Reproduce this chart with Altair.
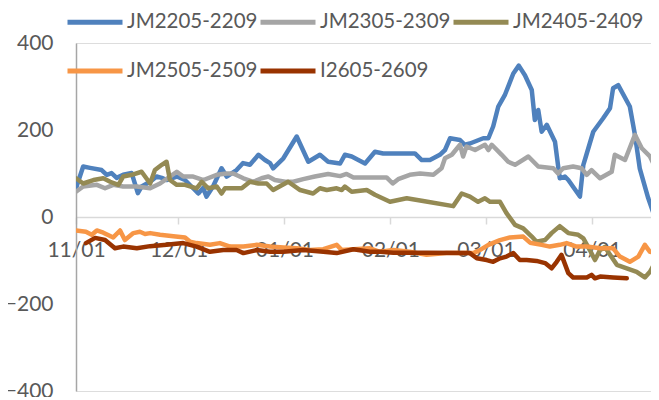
import altair as alt
import pandas as pd

series_names = ["JM2205-2209", "JM2305-2309", "JM2405-2409", "JM2505-2509", "I2605-2609"]
series_colors = ["#4F81BD", "#A5A5A5", "#948A54", "#F79646", "#993300"]

# x = days since 11/01
tick_days = [0, 30, 61, 92, 120, 151]
tick_labels = ["11/01", "12/01", "01/01", "02/01", "03/01", "04/01"]
y_ticks = [-400, -200, 0, 200, 400]

jm2205_day = [0, 2.1, 4.1, 7.5, 9.0, 10.4, 11.9, 13.8, 16.3, 18.1, 19.2, 21.7, 23.6, 25.1, 26.5,
              29.5, 31.9, 34.8, 35.8, 37.2, 38.2, 40.1, 42.6, 44.1, 47.0, 48.9, 50.9, 53.4, 55.3, 56.8,
              57.7, 60.7, 64.6, 68.0, 71.4, 73.8, 77.3, 78.7, 80.7, 84.6, 87.5, 89.9, 99.2, 101.2, 103.6,
              106.5, 108.0, 109.5, 112.4, 113.8, 115.3, 119.2, 120.7, 122.1, 123.6, 125.5, 128.0, 129.6,
              131.4, 133.4, 134.3, 135.3, 136.3, 137.8, 140.2, 141.2, 141.6, 143.1, 144.1, 147.5, 148.5,
              149.5, 151.4, 154.3, 156.3, 157.2, 158.7, 162.1, 163.6, 165.0, 167.5, 169.0, 170.4]
jm2205_val = [66, 116, 113, 108, 97, 101, 90, 97, 101, 55, 70, 81, 93, 90, 85,
              93, 85, 62, 54, 67, 47, 70, 112, 93, 108, 124, 120, 143, 131, 124,
              112, 135, 185, 127, 143, 127, 123, 143, 139, 123, 150, 146, 146, 131, 131,
              143, 154, 181, 177, 166, 169, 181, 181, 208, 254, 280, 330, 348,
              326, 292, 223, 246, 196, 212, 173, 112, 89, 93, 85, 47, 120,
              146, 196, 227, 250, 296, 303, 254, 189, 112, 43, 9, 58]

jm2305_day = [0, 2.1, 6.1, 8.5, 10.9, 13.8, 17.8, 21.7, 24.6, 27.5, 29.5, 31.4, 34.3, 37.3, 41.2,
              44.1, 46.0, 49.0, 51.9, 54.3, 56.3, 58.2, 61.2, 63.6, 66.5, 69.9, 73.8, 77.3, 79.2, 81.2,
              90.9, 92.7, 94.3, 97.7, 100.7, 104.6, 107.0, 108.0, 110.0, 112.4, 113.3, 114.3, 116.8,
              119.7, 120.7, 121.7, 124.6, 126.5, 128.5, 132.4, 135.3, 139.7, 141.1, 142.6, 145.5, 148.0,
              149.5, 150.9, 153.4, 156.8, 157.7, 160.7, 163.6, 165.6, 168.0, 169.9, 170.6]
jm2305_val = [58, 70, 74, 66, 74, 70, 70, 66, 77, 93, 104, 93, 93, 85, 97,
              100, 100, 89, 81, 89, 93, 85, 81, 81, 87, 93, 99, 94, 99, 91,
              91, 77, 87, 97, 100, 97, 112, 135, 143, 166, 139, 162, 154,
              166, 154, 166, 143, 127, 120, 139, 116, 112, 100, 112, 116, 112,
              97, 108, 89, 104, 143, 131, 189, 158, 139, 108, 93]

jm2405_day = [0, 2.1, 5.1, 8.0, 10.0, 12.4, 13.8, 16.3, 19.2, 21.7, 23.1, 25.1, 26.5, 27.5, 29.5,
              31.9, 35.3, 36.8, 38.7, 41.2, 42.6, 43.6, 48.5, 50.9, 53.4, 55.8, 57.7, 62.1, 65.6, 69.4,
              71.4, 73.4, 76.3, 77.8, 78.7, 80.7, 85.1, 87.5, 91.9, 96.8, 101.6, 110.4, 112.9, 115.3,
              117.7, 119.7, 121.2, 124.1, 126.0, 128.5, 130.9, 133.4, 134.8, 137.3, 139.2, 141.6, 144.1,
              147.0, 148.5, 150.4, 151.9, 153.4, 154.8, 158.3, 161.2, 164.1, 166.5, 168.0, 169.4, 170.6]
jm2405_val = [89, 77, 85, 89, 81, 74, 93, 97, 104, 77, 108, 120, 127, 85, 74,
              74, 66, 81, 66, 70, 54, 66, 66, 81, 77, 77, 62, 81, 62, 54,
              66, 62, 66, 62, 70, 58, 62, 51, 35, 43, 37, 25, 54, 47,
              35, 43, 35, 35, 9, -18, -26, -45, -57, -53, -37, -21, -37,
              -41, -49, -76, -99, -76, -69, -110, -118, -126, -139, -126, -106, -133]

jm2505_day = [0, 2.9, 4.6, 6.1, 8.0, 10.9, 12.9, 14.3, 16.8, 18.7, 20.2, 21.7, 24.6, 28.5, 31.9,
              33.4, 35.3, 39.2, 42.1, 45.1, 49.0, 52.9, 56.8, 60.7, 64.6, 68.5, 72.4, 76.3, 77.8, 81.2,
              86.0, 89.0, 92.9, 97.7, 102.6, 108.5, 112.4, 116.3, 118.2, 120.7, 124.1, 127.0, 130.9,
              132.9, 136.3, 138.7, 141.6, 143.6, 146.5, 149.5, 153.4, 157.2, 159.2, 162.1, 164.6, 166.5,
              168.0, 170.6]
jm2505_val = [-31, -34, -41, -31, -36, -47, -31, -53, -37, -34, -39, -37, -41, -44, -47,
              -57, -60, -64, -60, -68, -68, -64, -68, -70, -72, -76, -74, -64, -76, -74,
              -72, -80, -76, -80, -87, -83, -83, -83, -76, -64, -53, -47, -45,
              -59, -64, -68, -64, -60, -68, -68, -72, -72, -91, -103, -91, -64,
              -80, -83]

i2605_day = [2.9, 5.6, 8.5, 11.4, 13.8, 17.8, 21.7, 26.5, 31.4, 35.3, 39.2, 43.1, 47.0, 49.0, 52.9,
             56.8, 60.7, 66.5, 72.4, 76.3, 81.2, 86.0, 89.0, 92.9, 102.6, 115.3, 117.3, 120.2, 122.1,
             124.1, 126.0, 128.0, 129.9, 131.9, 134.8, 137.3, 139.2, 140.7, 142.1, 144.1, 145.5, 149.5,
             150.9, 151.9, 153.4, 157.2, 161.2]
i2605_val = [-60, -48, -53, -72, -68, -72, -67, -64, -60, -68, -80, -76, -76, -83, -76,
             -80, -80, -76, -80, -83, -74, -80, -80, -82, -82, -83, -95, -99, -103,
             -95, -91, -83, -99, -99, -101, -106, -118, -103, -87, -129, -139, -139,
             -133, -141, -137, -139, -141]

all_days = [jm2205_day, jm2305_day, jm2405_day, jm2505_day, i2605_day]
all_vals = [jm2205_val, jm2305_val, jm2405_val, jm2505_val, i2605_val]

FONT = "Lato"
TXT = "#595959"
W, H = 575, 348

label_expr = ""
for d, lab in zip(tick_days, tick_labels):
    label_expr += f"datum.value == {d} ? '{lab}' : "
label_expr += "''"

x_enc = alt.X(
    "day:Q",
    scale=alt.Scale(domain=[0, 168.3], nice=False, zero=False),
    axis=alt.Axis(
        values=tick_days, labelExpr=label_expr, title=None, grid=False,
        offset=-H / 2, domainColor="#D9D9D9", domainWidth=1.5,
        tickColor="#D9D9D9", tickWidth=1.5, tickSize=7,
        labelPadding=15, labelFont=FONT, labelFontSize=21, labelColor=TXT,
        labelOverlap=False, labelFlush=False,
    ),
)
y_enc = alt.Y(
    "value:Q",
    scale=alt.Scale(domain=[-400, 400], nice=False),
    axis=alt.Axis(
        values=y_ticks, title=None, grid=False, ticks=False,
        domainColor="#A6A6A6", domainWidth=1.5, labelPadding=23,
        labelFont=FONT, labelFontSize=21, labelColor=TXT,
    ),
)
color_enc = alt.Color(
    "series:N",
    scale=alt.Scale(domain=series_names, range=series_colors),
    legend=alt.Legend(
        title=None, orient="none", legendX=-11, legendY=-51,
        direction="horizontal", columns=3, symbolType="stroke",
        symbolSize=3025, symbolStrokeWidth=5, labelFont=FONT,
        labelFontSize=20.5, labelColor=TXT, columnPadding=-22, rowPadding=8,
        labelOffset=2, labelLimit=400,
    ),
)

layers = []
for name, days, vals in zip(series_names, all_days, all_vals):
    df = pd.DataFrame({"day": days, "value": vals, "series": name})
    layers.append(
        alt.Chart(df).mark_line(strokeWidth=4.5, strokeJoin="round", strokeCap="round", clip=True)
        .encode(x=x_enc, y=y_enc, color=color_enc)
    )

chart = (
    alt.layer(*layers)
    .properties(
        width=W, height=H,
        padding={"left": 68, "top": 35, "right": 0, "bottom": 6},
        autosize=alt.AutoSizeParams(type="none"),
    )
    .configure_view(stroke=None)
    .configure(font=FONT)
)

chart.save("out.html", embed_options={"renderer": "svg", "actions": False})
